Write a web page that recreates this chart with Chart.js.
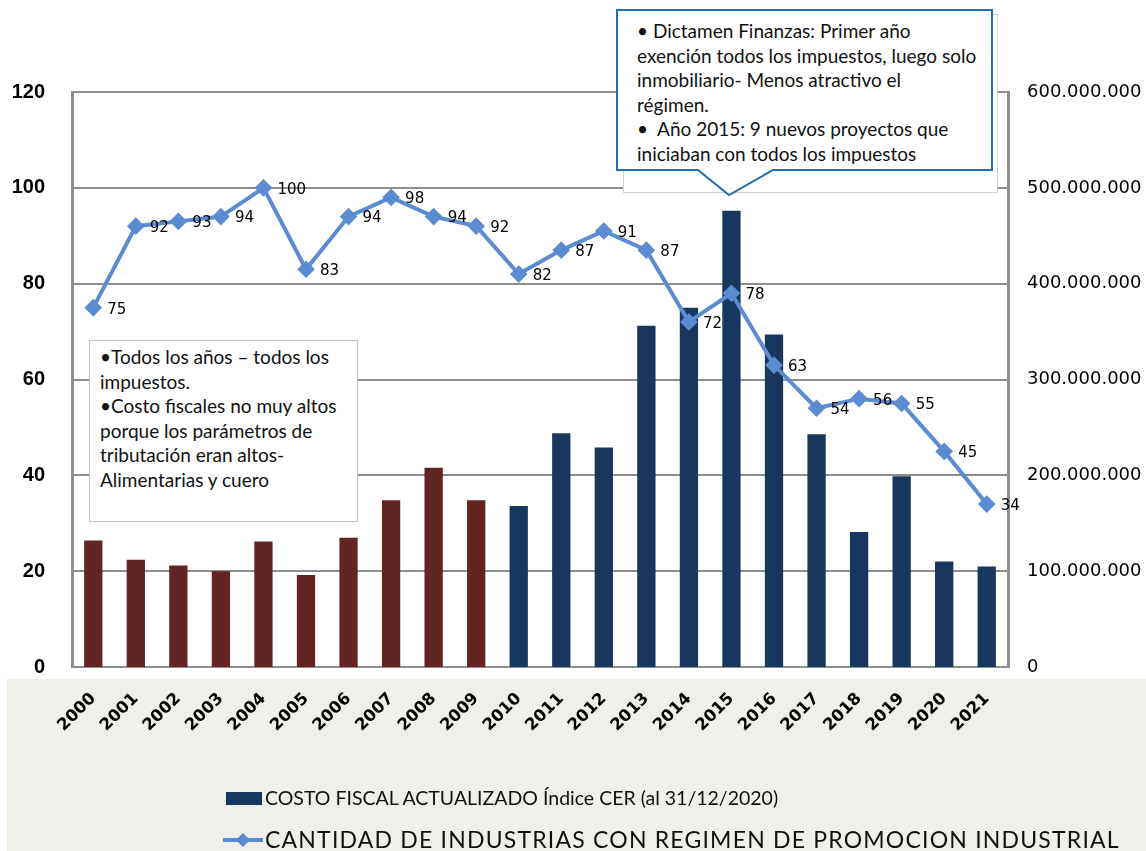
<!DOCTYPE html>
<html>
<head>
<meta charset="utf-8">
<script src="https://cdn.jsdelivr.net/npm/chart.js@4"></script>
<style>
    body { margin: 0; background: #fff; }
    #wrap { position: relative; width: 1146px; height: 851px; overflow: hidden; }
    #myChart { position: absolute; left: 0; top: 0; }
    .note { position: absolute; font-family: Lato, "Open Sans", sans-serif; font-size: 19px; line-height: 24.5px; color: #111; white-space: nowrap; }
    .legend { position: absolute; font-family: Lato, "Open Sans", sans-serif; color: #111; white-space: nowrap; }
</style>
</head>
<body>
<div id="wrap">
    <canvas id="myChart" width="1146" height="851"></canvas>

    <div style="position:absolute;left:89px;top:340px;width:267px;height:180px;background:#fff;border:1px solid #c4c4c4;"></div>
    <div class="note" style="left:100px;top:345px;">
        •Todos los años – todos los<br>impuestos.<br>•Costo fiscales no muy altos<br>porque los parámetros de<br>tributación eran altos-<br>Alimentarias y cuero
    </div>

    <svg style="position:absolute;left:0;top:0;" width="1146" height="851">
        <rect x="623.5" y="14.5" width="374" height="178" fill="#fff" stroke="#d0d0d0" stroke-width="1"/>
        <path d="M617,10 H992 V170 H773 L729,195 L698,170 H617 Z" fill="#fff" stroke="#1f6fb4" stroke-width="2"/>
        <rect x="226" y="792" width="36" height="13" fill="#17375e"/>
        <line x1="223" y1="840" x2="263" y2="840" stroke="#5b8bd0" stroke-width="4"/>
        <rect x="238" y="835" width="10" height="10" fill="#5b8bd0" transform="rotate(45 243 840)"/>
    </svg>
    <div class="note" style="left:637px;top:19px;">
        • Dictamen Finanzas: Primer año<br>exención todos los impuestos, luego solo<br>inmobiliario- Menos atractivo el<br>régimen.<br>•&nbsp; Año 2015: 9 nuevos proyectos que<br>iniciaban con todos los impuestos
    </div>

    <div class="legend" style="left:265px;top:786px;font-size:19.5px;">COSTO FISCAL ACTUALIZADO Índice CER (al 31/12/2020)</div>
    <div class="legend" style="left:265px;top:825px;font-size:23px;letter-spacing:1.2px;">CANTIDAD DE INDUSTRIAS CON REGIMEN DE PROMOCION INDUSTRIAL</div>
</div>

<script>
// años
const years = ['2000', '2001', '2002', '2003', '2004', '2005', '2006', '2007', '2008', '2009', '2010',
    '2011', '2012', '2013', '2014', '2015', '2016', '2017', '2018', '2019', '2020', '2021']

// costo fiscal actualizado (eje derecho)
const costoFiscal = [132000000, 112000000, 106000000, 100000000, 131000000, 96000000, 135000000,
    174000000, 208000000, 174000000, 168000000, 244000000, 229000000, 356000000, 375000000,
    476000000, 347000000, 243000000, 141000000, 199000000, 110000000, 105000000]

// cantidad de industrias (eje izquierdo)
const industrias = [75, 92, 93, 94, 100, 83, 94, 98, 94, 92, 82, 87, 91, 87, 72, 78, 63, 54, 56, 55, 45, 34]

const leftTicks = [0, 20, 40, 60, 80, 100, 120]
const rightTicks = [0, 100000000, 200000000, 300000000, 400000000, 500000000, 600000000]

const barColors = years.map(y => Number(y) < 2010 ? '#632523' : '#17375e')
const gridColor = '#8e8e8e'

const fondo = {
    id: 'fondo',
    beforeDraw: (chart) => {
        const ctx = chart.ctx
        ctx.save()
        ctx.fillStyle = '#fff'
        ctx.fillRect(0, 0, chart.width, chart.height)
        ctx.fillStyle = '#eff0e9'
        ctx.fillRect(7, 679, chart.width - 7, chart.height - 679)
        ctx.restore()
    }
}

const etiquetas = {
    id: 'etiquetas',
    afterDatasetsDraw: (chart) => {
        const ctx = chart.ctx
        const meta = chart.getDatasetMeta(1)
        ctx.save()
        ctx.font = '15px "DejaVu Sans"'
        ctx.fillStyle = '#000'
        ctx.textAlign = 'left'
        ctx.textBaseline = 'middle'
        meta.data.forEach((pt, i) => {
            ctx.fillText(industrias[i], pt.x + 14, pt.y + 2)
        })
        ctx.restore()
    }
}

const config = {
    type: 'bar',
    data: {
        labels: years,
        datasets: [{
            type: 'bar',
            label: 'COSTO FISCAL ACTUALIZADO Índice CER (al 31/12/2020)',
            data: costoFiscal,
            yAxisID: 'y1',
            backgroundColor: barColors,
            barPercentage: 0.43,
            categoryPercentage: 1,
            order: 2
        }, {
            type: 'line',
            label: 'CANTIDAD DE INDUSTRIAS CON REGIMEN DE PROMOCION INDUSTRIAL',
            data: industrias,
            yAxisID: 'y',
            borderColor: '#5b8bd0',
            backgroundColor: '#5b8bd0',
            borderWidth: 4,
            pointStyle: 'rectRot',
            pointRadius: 6,
            tension: 0,
            order: 1
        }]
    },
    options: {
        responsive: false,
        animation: false,
        devicePixelRatio: 1,
        layout: {
            padding: { top: 92, left: 0, right: 0, bottom: 0 }
        },
        plugins: {
            legend: { display: false },
            tooltip: { enabled: false }
        },
        scales: {
            x: {
                offset: true,
                grid: { display: false, drawTicks: false },
                border: { color: gridColor, width: 2 },
                ticks: {
                    color: '#000',
                    font: { family: 'DejaVu Sans', size: 16.5, weight: 'bold' },
                    maxRotation: 45,
                    minRotation: 45,
                    padding: 22,
                    autoSkip: false
                },
                afterFit: (s) => { s.height = 184 }
            },
            y: {
                position: 'left',
                min: 0,
                max: 120,
                afterBuildTicks: (s) => { s.ticks = leftTicks.map(v => ({ value: v })) },
                grid: { color: gridColor, lineWidth: 2, drawTicks: false },
                border: { color: gridColor, width: 3 },
                ticks: {
                    color: '#000',
                    font: { family: 'Liberation Sans', size: 20, weight: 'bold' },
                    padding: 27
                },
                afterFit: (s) => { s.width = 72 }
            },
            y1: {
                position: 'right',
                min: 0,
                max: 600000000,
                afterBuildTicks: (s) => { s.ticks = rightTicks.map(v => ({ value: v })) },
                grid: { display: false, drawTicks: false },
                border: { color: gridColor, width: 3 },
                ticks: {
                    color: '#000',
                    font: { family: 'DejaVu Sans', size: 18 },
                    padding: 19,
                    callback: (value) => String(value).replace(/\B(?=(\d{3})+(?!\d))/g, '.')
                },
                afterFit: (s) => { s.width = 138 }
            }
        }
    },
    plugins: [fondo, etiquetas]
}

var myChart = new Chart(document.getElementById('myChart'), config)
</script>
</body>
</html>
